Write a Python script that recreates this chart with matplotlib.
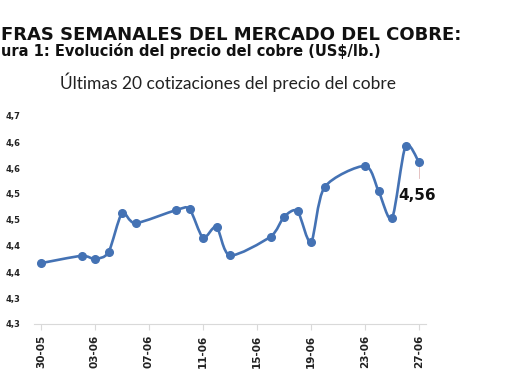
import matplotlib
matplotlib.use("Agg")
import matplotlib.pyplot as plt
import matplotlib.dates as mdates
from matplotlib.path import Path
from matplotlib.patches import PathPatch
import numpy as np
import pandas as pd

# Copper price, last quotations (US$/lb)
dates = ["2025-05-30", "2025-06-02", "2025-06-03", "2025-06-04", "2025-06-05",
         "2025-06-06", "2025-06-09", "2025-06-10", "2025-06-11", "2025-06-12",
         "2025-06-13", "2025-06-16", "2025-06-17", "2025-06-18", "2025-06-19",
         "2025-06-20", "2025-06-23", "2025-06-24", "2025-06-25", "2025-06-26",
         "2025-06-27"]
prices = [4.367, 4.381, 4.375, 4.388, 4.463, 4.444, 4.469, 4.471, 4.416, 4.437,
          4.382, 4.418, 4.456, 4.467, 4.407, 4.513, 4.554, 4.506, 4.453, 4.592,
          4.561]
tick_dates = ["2025-05-30", "2025-06-03", "2025-06-07", "2025-06-11",
              "2025-06-15", "2025-06-19", "2025-06-23", "2025-06-27"]
tick_labels = ["30-05", "03-06", "07-06", "11-06", "15-06", "19-06", "23-06", "27-06"]
y_ticks = [4.25, 4.30, 4.35, 4.40, 4.45, 4.50, 4.55, 4.60, 4.65]
y_labels = ["4,3", "4,3", "4,4", "4,4", "4,5", "4,5", "4,6", "4,6", "4,7"]
last_label = "4,56"

W, H = 510, 382
fig = plt.figure(figsize=(W / 100, H / 100), dpi=100)
ax = fig.add_axes([34.25 / W, 1 - 324 / H, 391.5 / W, 208 / H])

x = mdates.date2num(pd.to_datetime(dates))
y = np.array(prices)
blue = "#4472b4"

# smoothed line like Excel (Catmull-Rom style Bezier, a bit less tension)
pts = np.column_stack([x, y])
n = len(pts)
k = 7.5
verts = [tuple(pts[0])]
codes = [Path.MOVETO]
for i in range(n - 1):
    p0 = pts[max(i - 1, 0)]
    p1 = pts[i]
    p2 = pts[i + 1]
    p3 = pts[min(i + 2, n - 1)]
    verts += [tuple(p1 + (p2 - p0) / k), tuple(p2 - (p3 - p1) / k), tuple(p2)]
    codes += [Path.CURVE4] * 3
ax.add_patch(PathPatch(Path(verts, codes), fill=False, lw=1.9, edgecolor=blue,
                       capstyle="round", joinstyle="round"))
ax.plot(x, y, "o", color=blue, markersize=5.5, zorder=3)

# data label for last point
ax.plot([x[-1], x[-1]], [y[-1] - 0.008, y[-1] - 0.03], color="#e0b8b8", lw=0.6)
ax.annotate(last_label, (x[-1], y[-1]), xytext=(-1, -24), textcoords="offset points",
            fontsize=11, fontweight="bold", color="#111111", ha="center", va="center")

tx = mdates.date2num(pd.to_datetime(tick_dates))
ax.set_xlim(x[0] - 0.5, x[-1] + 0.5)
ax.set_ylim(4.25, 4.65)
ax.set_xticks(tx)
ax.set_xticklabels(tick_labels, rotation=90, fontsize=7.5, fontweight="bold",
                   color="#222222")
ax.set_yticks(y_ticks)
ax.set_yticklabels(y_labels, fontsize=6, fontweight="bold", color="#222222")
ax.tick_params(axis="x", length=4, color="#d9d9d9", pad=4)
ax.tick_params(axis="y", length=0, pad=10)
for s in ["top", "right", "left"]:
    ax.spines[s].set_visible(False)
ax.spines["bottom"].set_color("#d9d9d9")
ax.set_facecolor("none")

fig.text(1 / W, 1 - 40 / H, "FRAS SEMANALES DEL MERCADO DEL COBRE:", fontsize=13,
         fontweight="bold", color="#111111", ha="left", va="baseline")
fig.text(1 / W, 1 - 56 / H, "ura 1: Evolución del precio del cobre (US$/lb.)",
         fontsize=10.5, fontweight="bold", color="#111111", ha="left", va="baseline")
fig.text(228 / W, 1 - 89 / H, "Últimas 20 cotizaciones del precio del cobre",
         fontsize=12.5, family="Lato", color="#222222", ha="center", va="baseline")

fig.savefig("out.png", dpi=100)
